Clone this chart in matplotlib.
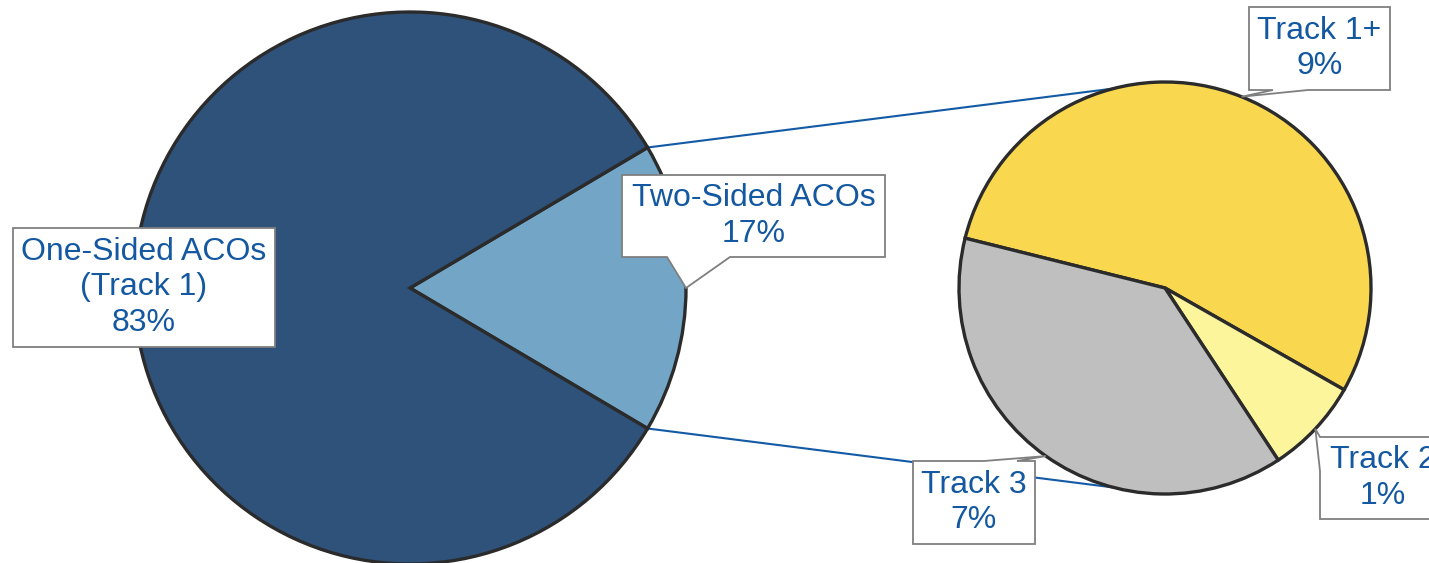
import numpy as np
import matplotlib
matplotlib.use('Agg')
import matplotlib.pyplot as plt
from matplotlib.patches import Polygon

plt.rcParams['font.family'] = ['Liberation Sans', 'DejaVu Sans']

W, H = 1429, 563

# Share of all ACOs by risk model (percent)
main_labels = ['Two-Sided ACOs', 'One-Sided ACOs\n(Track 1)']
main_values = [17, 83]
main_colors = ['#73a5c6', '#2e5279']

# Breakdown of the two-sided ACOs by track (percent of all ACOs)
sub_labels = ['Track 1+', 'Track 2', 'Track 3']
sub_values = [9.4, 1.3, 6.6]
sub_colors = ['#f9d84f', '#fcf59c', '#bfbfbf']

TEXT_BLUE = '#1358a0'
LINE_BLUE = '#135aa5'
EDGE = '#2b2b2b'


def py(y):
    # layout is written in pixel rows from the top; axes run bottom-up
    return H - y


def on_circle(center, r, deg):
    a = np.deg2rad(deg)
    return center[0] + r * np.cos(a), center[1] + r * np.sin(a)


def callout(ax, text, box, notch=None, tip=None):
    x0, y0, x1, y1 = box
    pts = [(x0, y0)]
    side = notch[0] if notch else None
    if side == 'top':
        pts += [(notch[1], y0), tip, (notch[2], y0)]
    pts.append((x1, y0))
    if side == 'right':
        pts += [(x1, notch[1]), tip, (x1, notch[2])]
    pts.append((x1, y1))
    if side == 'bottom':
        pts += [(notch[2], y1), tip, (notch[1], y1)]
    pts.append((x0, y1))
    if side == 'left':
        pts += [(x0, notch[2]), tip, (x0, notch[1])]
    verts = [(x, py(y)) if (x, y) != tip else tip for x, y in pts]
    ax.add_patch(Polygon(verts, closed=True, facecolor='white',
                         edgecolor='#7f7f7f', linewidth=1.3, zorder=3))
    ax.text((x0 + x1) / 2, py((y0 + y1) / 2), text, ha='center', va='center',
            fontsize=23, color=TEXT_BLUE, linespacing=1.25, zorder=4)


fig = plt.figure(figsize=(W / 100, H / 100), dpi=100)
ax = fig.add_axes([0, 0, 1, 1])

big_c, big_r = (410, py(288)), 276
small_c, small_r = (1165, py(288)), 206
wedge_style = dict(edgecolor=EDGE, linewidth=2.4)

big_wedges, _ = ax.pie(main_values, colors=main_colors, center=big_c, radius=big_r,
                       startangle=main_values[0] / sum(main_values) * 180,
                       counterclock=False, wedgeprops=wedge_style, frame=True)
small_wedges, _ = ax.pie(sub_values, colors=sub_colors, center=small_c, radius=small_r,
                         startangle=166, counterclock=False,
                         wedgeprops=wedge_style, frame=True)
for w in big_wedges + small_wedges:
    w.set_zorder(1)

# lines joining the two-sided slice to the breakdown pie
two = big_wedges[0]
upper = on_circle(big_c, big_r, two.theta2)
lower = on_circle(big_c, big_r, two.theta1)
ax.plot([upper[0], small_c[0]], [upper[1], small_c[1] + small_r],
        color=LINE_BLUE, lw=1.5, zorder=0.5)
ax.plot([lower[0], small_c[0]], [lower[1], small_c[1] - small_r],
        color=LINE_BLUE, lw=1.5, zorder=0.5)


def mid_tip(center, r, wedge):
    return on_circle(center, r, (wedge.theta1 + wedge.theta2) / 2)


callout(ax, f'{main_labels[1]}\n{main_values[1]:.0f}%', (13, 228, 275, 347))
callout(ax, f'{main_labels[0]}\n{main_values[0]:.0f}%', (622, 175, 885, 257),
        ('bottom', 667, 730), mid_tip(big_c, big_r, big_wedges[0]))
callout(ax, f'{sub_labels[0]}\n{sub_values[0]:.0f}%', (1249, 7, 1390, 90),
        ('bottom', 1273, 1308), mid_tip(small_c, small_r, small_wedges[0]))
callout(ax, f'{sub_labels[1]}\n{sub_values[1]:.0f}%', (1320, 437, 1445, 519),
        ('left', 437, 471), mid_tip(small_c, small_r, small_wedges[1]))
callout(ax, f'{sub_labels[2]}\n{sub_values[2]:.0f}%', (913, 461, 1035, 544),
        ('top', 984, 1017), mid_tip(small_c, small_r, small_wedges[2]))

ax.set_xlim(0, W)
ax.set_ylim(0, H)
ax.set_aspect('equal')
ax.axis('off')

fig.savefig('out.png', dpi=100, facecolor='white')
